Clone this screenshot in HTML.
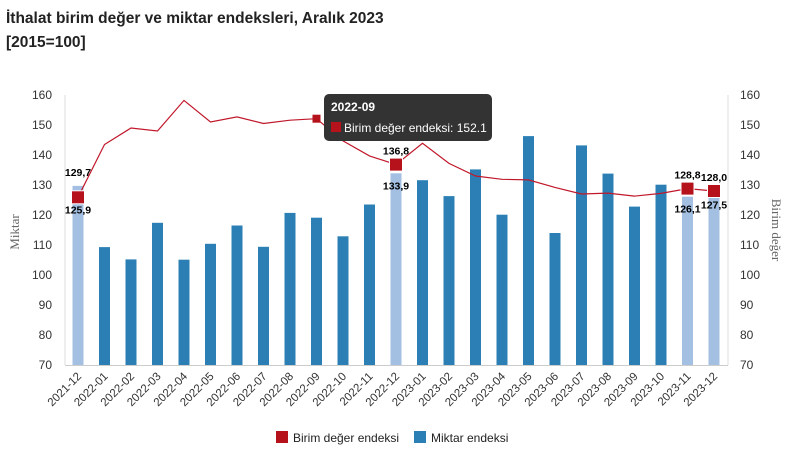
<!DOCTYPE html>
<html><head><meta charset="utf-8"><style>
body{margin:0;background:#fff;font-family:"Liberation Sans",sans-serif;}
.t{position:absolute;left:6px;font-weight:bold;font-size:15.5px;color:#222;}
</style></head><body>
<div style="position:relative;width:790px;height:455px;overflow:hidden">
<div class="t" style="top:10px">İthalat birim değer ve miktar endeksleri, Aralık 2023</div>
<div class="t" style="top:34px">[2015=100]</div>
<svg id="c" width="790" height="455" style="position:absolute;left:0;top:0"></svg>
</div>
<script>
const categories=["2021-12","2022-01","2022-02","2022-03","2022-04","2022-05","2022-06","2022-07","2022-08","2022-09","2022-10","2022-11","2022-12","2023-01","2023-02","2023-03","2023-04","2023-05","2023-06","2023-07","2023-08","2023-09","2023-10","2023-11","2023-12"];
const miktar=[129.7,109.3,105.2,117.4,105.1,110.4,116.5,109.4,120.7,119.1,112.9,123.5,133.9,131.6,126.3,135.2,120.1,146.3,114.0,143.2,133.8,122.8,130.1,126.1,127.5];
const birim=[125.9,143.5,149.0,148.0,158.2,151.0,152.7,150.5,151.6,152.1,144.7,139.7,136.8,143.9,137.2,133.0,131.9,131.7,129.2,127.0,127.3,126.3,127.2,128.8,128.0];
const ticks=[70,80,90,100,110,120,130,140,150,160];
const highlight=[0,12,23,24];
const svg=document.getElementById('c');const NS='http://www.w3.org/2000/svg';
function mk(t,a,p){const e=document.createElementNS(NS,t);for(const k in a)e.setAttribute(k,a[k]);(p||svg).appendChild(e);return e;}
const y=v=>365-(v-70)*3;
const x=i=>78+i*(714-78)/(categories.length-1);
// axes
let e=mk('line',{x1:65,x2:65,y1:95,y2:365,stroke:'#ddd'});


e=mk('line',{x1:728,x2:728,y1:95,y2:365,stroke:'#ddd'});


e=mk('line',{x1:65,x2:728,y1:365.5,y2:365.5,stroke:'#ccc'});


ticks.forEach(v=>{
 let t=mk('text',{x:52,y:y(v)+4,'text-anchor':'end','font-size':12,fill:'#333'});t.textContent=v;
 
 
 t=mk('text',{x:740,y:y(v)+4,'font-size':12,fill:'#333'});t.textContent=v;
 
 
});
e=mk('text',{x:0,y:0,transform:'translate(19,232) rotate(-90)','text-anchor':'middle','font-size':13,fill:'#666','font-family':'Liberation Serif,serif'});e.textContent='Miktar';


e=mk('text',{x:0,y:0,transform:'translate(772,230) rotate(90)','text-anchor':'middle','font-size':13,fill:'#666','font-family':'Liberation Serif,serif'});e.textContent='Birim değer';


// bars
miktar.forEach((v,i)=>{
 const b=mk('rect',{x:x(i)-5.5,y:y(v),width:11,height:365-y(v),fill:highlight.includes(i)?'#a3bfe2':'#2c7fb5'});
 
 
 const t=mk('text',{x:0,y:0,transform:`translate(${x(i)+4},377) rotate(-45)`,'text-anchor':'end','font-size':11.5,fill:'#333'});t.textContent=categories[i];
 
 
});
// line
const l=mk('polyline',{points:birim.map((v,i)=>x(i)+','+y(v)).join(' '),fill:'none',stroke:'#c0182a','stroke-width':1.2});


highlight.forEach(i=>{
 const m=mk('rect',{x:x(i)-6.5,y:y(birim[i])-6.5,width:13,height:13,fill:'#b5121b',stroke:'#fff','stroke-width':1});
 
 
 const hi=Math.max(birim[i],miktar[i]),lo=Math.min(birim[i],miktar[i]);
 let t=mk('text',{x:x(i),y:y(hi)-10,'text-anchor':'middle','font-size':10.5,'font-weight':'bold',fill:'#000'});t.textContent=String(i==12?birim[i]:(i==0?miktar[i]:birim[i]).toFixed(1)).replace('.',',');
 
 
 t=mk('text',{x:x(i),y:y(lo)+16,'text-anchor':'middle','font-size':10.5,'font-weight':'bold',fill:'#000'});t.textContent=(i==12?miktar[i]:(i==0?birim[i]:miktar[i])).toFixed(1).replace('.',',');
 
 
});
// tooltip marker
e=mk('rect',{x:x(9)-4,y:y(birim[9])-4,width:8,height:8,fill:'#b5121b'});


const g=mk('g',{});


mk('rect',{x:324,y:94,width:168,height:47,rx:5,fill:'#333'},g);
e=mk('text',{x:331,y:111,'font-size':12,'font-weight':'bold',fill:'#fff'},g);e.textContent=categories[9];
mk('rect',{x:331,y:122,width:10,height:10,fill:'#b5121b'},g);
e=mk('text',{x:344,y:132,'font-size':12,fill:'#fff'},g);e.textContent='Birim değer endeksi: '+birim[9].toFixed(1);
// legend
e=mk('rect',{x:276,y:431,width:12,height:12,fill:'#b5121b'});


e=mk('text',{x:293,y:442,'font-size':12,fill:'#222'});e.textContent='Birim değer endeksi';


e=mk('rect',{x:414,y:431,width:12,height:12,fill:'#2c7fb5'});


e=mk('text',{x:431,y:442,'font-size':12,fill:'#222'});e.textContent='Miktar endeksi';


</script>
</body></html>
